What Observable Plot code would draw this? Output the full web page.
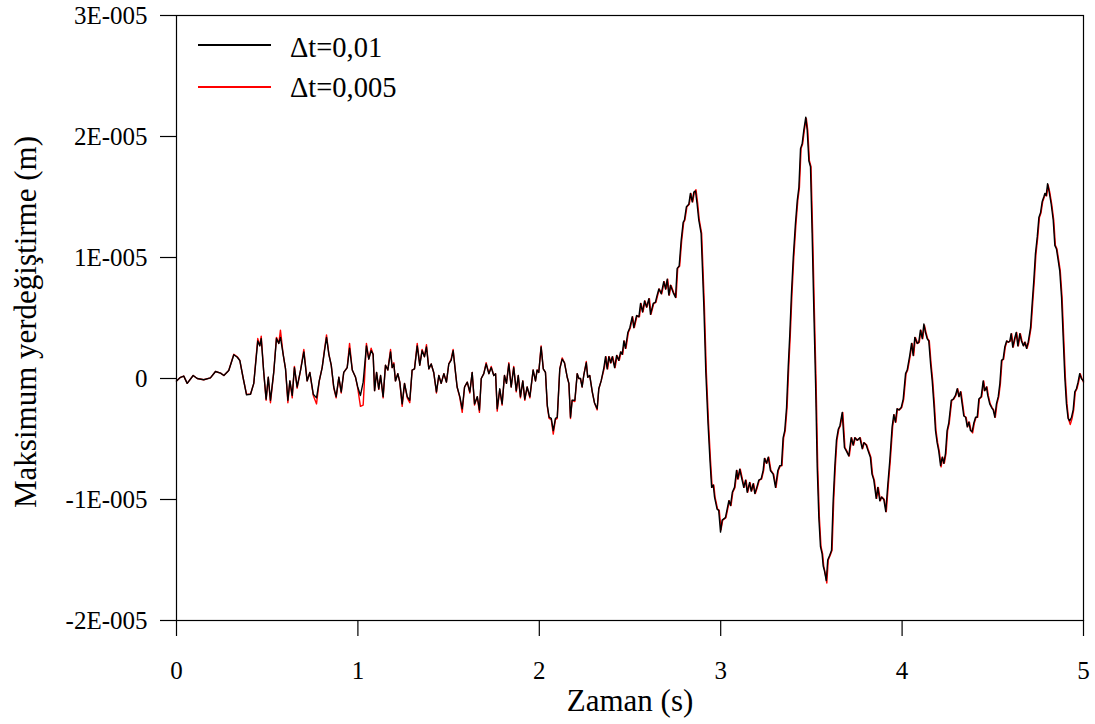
<!DOCTYPE html>
<html>
<head>
<meta charset="utf-8">
<script src="https://cdn.jsdelivr.net/npm/d3@7"></script>
<script src="https://cdn.jsdelivr.net/npm/@observablehq/plot@0.6"></script>
<style>
  html, body { margin: 0; padding: 0; background: #fff; }
  #wrap { position: relative; width: 1095px; height: 724px; font-family: "Liberation Serif", "Times New Roman", serif; }
  .lg-line { position: absolute; left: 198px; width: 73px; height: 2px; }
  .lg-text { position: absolute; left: 290px; font-size: 28.5px; line-height: 28px; color: #000; white-space: nowrap; font-family: "Liberation Serif", "Times New Roman", serif; }
</style>
</head>
<body>
<div id="wrap">
  <div class="lg-line" style="top:44px;background:#000"></div>
  <div class="lg-text" style="top:34px">Δt=0,01</div>
  <div class="lg-line" style="top:86px;background:#ff0000"></div>
  <div class="lg-text" style="top:74px">Δt=0,005</div>
</div>
<script>
// values in units of 1E-005 m, time in s
const xTicks = [0, 1, 2, 3, 4, 5];
const yTicks = [-2, -1, 0, 1, 2, 3];
const xTitle = "Zaman (s)";
const yTitle = "Maksimum yerdeğiştirme (m)";
const seriesNames = ["Δt=0,01", "Δt=0,005"];

const dt001 = [[0,-0.02],[0.022,0.01],[0.04,0.02],[0.059,-0.04],[0.092,0.025],[0.114,0],[0.15,-0.01],[0.187,0.005],[0.215,0.058],[0.243,0.044],[0.261,0.025],[0.288,0.066],[0.316,0.196],[0.335,0.176],[0.349,0.149],[0.368,0],[0.386,-0.135],[0.408,-0.13],[0.426,-0.04],[0.448,0.31],[0.459,0.27],[0.467,0.33],[0.481,0.05],[0.494,-0.17],[0.506,0.01],[0.518,-0.18],[0.536,0.05],[0.551,0.33],[0.564,0.29],[0.573,0.34],[0.588,0.2],[0.601,0.08],[0.614,-0.18],[0.625,-0.02],[0.638,-0.14],[0.65,0.09],[0.665,-0.07],[0.684,0.07],[0.702,0.22],[0.72,-0.02],[0.735,0.05],[0.754,-0.13],[0.772,-0.16],[0.787,-0.02],[0.803,0.09],[0.816,0.23],[0.827,0.34],[0.84,0.2],[0.853,0.11],[0.867,-0.07],[0.88,-0.15],[0.895,0.01],[0.908,-0.11],[0.922,0.05],[0.941,0.09],[0.954,0.25],[0.969,0.07],[0.987,0.01],[0.999,-0.07],[1.014,-0.14],[1.029,-0.03],[1.047,0.27],[1.06,0.16],[1.073,0.23],[1.084,0.2],[1.092,-0.1],[1.103,0.05],[1.115,-0.085],[1.125,0.025],[1.139,-0.15],[1.152,0.11],[1.165,0.07],[1.18,0.22],[1.189,0.09],[1.198,0.12],[1.207,-0.02],[1.22,0.04],[1.231,-0.03],[1.244,-0.21],[1.257,-0.04],[1.272,-0.15],[1.286,-0.18],[1.299,0.07],[1.312,0.08],[1.327,0.27],[1.341,0.11],[1.354,0.23],[1.367,0.18],[1.378,0.26],[1.391,0.08],[1.404,0.12],[1.418,0.05],[1.433,-0.11],[1.446,0.025],[1.459,-0.04],[1.474,0.04],[1.488,-0.03],[1.501,0.12],[1.514,0.15],[1.525,0.23],[1.538,0.05],[1.547,-0.07],[1.562,-0.15],[1.575,-0.25],[1.588,-0.07],[1.603,-0.03],[1.617,-0.11],[1.63,0.05],[1.643,-0.21],[1.658,-0.15],[1.67,-0.26],[1.68,0],[1.694,0.04],[1.707,0.12],[1.722,0.04],[1.735,0.09],[1.749,0.025],[1.759,0.04],[1.768,-0.25],[1.782,-0.085],[1.795,-0.21],[1.808,0.025],[1.819,-0.04],[1.832,0.12],[1.845,-0.07],[1.859,0.09],[1.873,-0.1],[1.884,0.025],[1.896,-0.15],[1.909,-0.02],[1.92,-0.17],[1.933,-0.07],[1.948,-0.15],[1.966,0.07],[1.979,-0.02],[1.988,0.07],[1.997,0.05],[2.01,0.26],[2.022,0.08],[2.034,0.05],[2.044,-0.22],[2.054,-0.32],[2.066,-0.33],[2.077,-0.43],[2.089,-0.33],[2.099,-0.32],[2.113,0.08],[2.126,0.16],[2.139,0.13],[2.154,0.01],[2.163,-0.04],[2.172,-0.32],[2.181,-0.18],[2.196,-0.18],[2.209,0.04],[2.218,0],[2.227,0],[2.236,-0.07],[2.245,0.025],[2.259,0.13],[2.267,0.01],[2.278,0.025],[2.292,-0.11],[2.304,-0.2],[2.319,-0.25],[2.328,-0.085],[2.341,-0.02],[2.356,0.09],[2.365,0.18],[2.374,0.08],[2.383,0.18],[2.393,0.13],[2.402,0.18],[2.415,0.09],[2.426,0.19],[2.438,0.15],[2.448,0.22],[2.457,0.2],[2.466,0.31],[2.475,0.25],[2.488,0.38],[2.499,0.42],[2.512,0.51],[2.521,0.42],[2.536,0.52],[2.549,0.51],[2.558,0.62],[2.569,0.55],[2.58,0.64],[2.591,0.59],[2.604,0.66],[2.613,0.53],[2.628,0.62],[2.64,0.63],[2.65,0.69],[2.659,0.74],[2.672,0.7],[2.686,0.8],[2.696,0.74],[2.705,0.82],[2.714,0.69],[2.723,0.77],[2.738,0.71],[2.751,0.67],[2.76,0.91],[2.771,0.93],[2.782,1.14],[2.793,1.29],[2.8,1.31],[2.811,1.42],[2.824,1.44],[2.833,1.53],[2.843,1.46],[2.852,1.54],[2.861,1.55],[2.87,1.44],[2.879,1.31],[2.892,1.2],[2.907,0.6],[2.918,0.05],[2.93,-0.37],[2.941,-0.68],[2.95,-0.9],[2.959,-0.88],[2.966,-0.98],[2.98,-1.08],[2.989,-1.09],[2.999,-1.27],[3.008,-1.17],[3.026,-1.15],[3.045,-1.01],[3.054,-1.05],[3.064,-0.94],[3.076,-0.9],[3.087,-0.76],[3.094,-0.83],[3.105,-0.75],[3.118,-0.84],[3.127,-0.9],[3.137,-0.84],[3.146,-0.94],[3.159,-0.86],[3.168,-0.93],[3.179,-0.87],[3.188,-0.95],[3.197,-0.91],[3.21,-0.84],[3.223,-0.83],[3.234,-0.76],[3.241,-0.66],[3.252,-0.7],[3.262,-0.65],[3.274,-0.76],[3.289,-0.79],[3.302,-0.9],[3.315,-0.76],[3.326,-0.72],[3.335,-0.72],[3.344,-0.49],[3.353,-0.43],[3.363,-0.24],[3.372,0.09],[3.381,0.37],[3.39,0.7],[3.4,1],[3.412,1.28],[3.422,1.47],[3.431,1.58],[3.44,1.9],[3.449,1.94],[3.458,2.05],[3.469,2.16],[3.477,2.05],[3.486,1.8],[3.495,1.75],[3.504,1.2],[3.513,0.59],[3.523,-0.04],[3.532,-0.73],[3.541,-1.15],[3.55,-1.39],[3.559,-1.45],[3.565,-1.55],[3.572,-1.59],[3.582,-1.67],[3.59,-1.5],[3.601,-1.46],[3.611,-1.42],[3.62,-1.01],[3.629,-0.73],[3.638,-0.51],[3.648,-0.42],[3.657,-0.39],[3.67,-0.28],[3.682,-0.57],[3.693,-0.6],[3.706,-0.64],[3.719,-0.49],[3.73,-0.55],[3.739,-0.49],[3.752,-0.51],[3.767,-0.49],[3.78,-0.58],[3.789,-0.53],[3.802,-0.55],[3.813,-0.6],[3.825,-0.65],[3.834,-0.79],[3.844,-0.84],[3.857,-0.99],[3.866,-0.9],[3.877,-1.01],[3.886,-0.98],[3.899,-1],[3.91,-1.1],[3.921,-0.88],[3.932,-0.68],[3.945,-0.4],[3.954,-0.3],[3.963,-0.36],[3.972,-0.25],[3.982,-0.26],[3.995,-0.24],[4.006,-0.17],[4.019,0.04],[4.028,0.07],[4.042,0.19],[4.052,0.29],[4.061,0.19],[4.07,0.34],[4.083,0.29],[4.092,0.3],[4.101,0.4],[4.111,0.33],[4.12,0.45],[4.129,0.38],[4.138,0.33],[4.147,0.31],[4.157,0.12],[4.166,-0.02],[4.175,-0.21],[4.184,-0.43],[4.193,-0.53],[4.202,-0.6],[4.212,-0.72],[4.221,-0.65],[4.23,-0.7],[4.239,-0.62],[4.248,-0.43],[4.257,-0.37],[4.271,-0.18],[4.282,-0.17],[4.294,-0.14],[4.304,-0.085],[4.313,-0.15],[4.322,-0.11],[4.331,-0.21],[4.34,-0.31],[4.35,-0.32],[4.359,-0.4],[4.368,-0.36],[4.377,-0.43],[4.386,-0.44],[4.395,-0.37],[4.405,-0.32],[4.414,-0.32],[4.423,-0.17],[4.436,-0.15],[4.447,-0.02],[4.454,-0.1],[4.465,-0.07],[4.472,-0.14],[4.483,-0.21],[4.493,-0.24],[4.502,-0.26],[4.511,-0.32],[4.52,-0.21],[4.53,-0.15],[4.539,-0.04],[4.548,0.15],[4.557,0.16],[4.566,0.26],[4.576,0.31],[4.585,0.3],[4.594,0.31],[4.601,0.37],[4.61,0.26],[4.62,0.33],[4.629,0.38],[4.638,0.27],[4.649,0.37],[4.658,0.31],[4.668,0.27],[4.676,0.3],[4.686,0.25],[4.695,0.3],[4.708,0.42],[4.717,0.62],[4.726,0.81],[4.735,1.03],[4.745,1.17],[4.754,1.33],[4.763,1.37],[4.772,1.46],[4.781,1.5],[4.787,1.53],[4.794,1.51],[4.802,1.61],[4.811,1.54],[4.822,1.44],[4.833,1.31],[4.842,1.1],[4.851,1.07],[4.86,0.98],[4.869,0.89],[4.879,0.67],[4.888,0.34],[4.897,0.01],[4.906,-0.21],[4.915,-0.33],[4.924,-0.35],[4.934,-0.32],[4.943,-0.26],[4.952,-0.11],[4.961,-0.085],[4.97,-0.03],[4.979,0.04],[4.988,0],[5,-0.02]];

const dt0005 = [[0,-0.02],[0.022,0.01],[0.04,0.02],[0.059,-0.04],[0.092,0.025],[0.114,0],[0.15,-0.01],[0.187,0.005],[0.215,0.058],[0.243,0.044],[0.261,0.025],[0.288,0.066],[0.316,0.2],[0.335,0.18],[0.349,0.15],[0.368,0],[0.386,-0.13],[0.408,-0.13],[0.426,-0.04],[0.448,0.33],[0.459,0.27],[0.467,0.35],[0.481,0.05],[0.494,-0.18],[0.506,0.01],[0.518,-0.2],[0.536,0.05],[0.551,0.34],[0.564,0.29],[0.573,0.4],[0.588,0.2],[0.601,0.08],[0.614,-0.2],[0.625,-0.02],[0.638,-0.16],[0.65,0.1],[0.665,-0.08],[0.684,0.07],[0.702,0.24],[0.72,-0.02],[0.735,0.05],[0.754,-0.14],[0.772,-0.21],[0.787,-0.02],[0.803,0.09],[0.816,0.24],[0.827,0.36],[0.84,0.2],[0.853,0.11],[0.867,-0.08],[0.88,-0.16],[0.895,0.01],[0.908,-0.12],[0.922,0.05],[0.941,0.09],[0.954,0.29],[0.969,0.07],[0.987,0.01],[0.999,-0.08],[1.014,-0.23],[1.029,-0.22],[1.047,0.29],[1.06,0.16],[1.073,0.25],[1.084,0.2],[1.092,-0.1],[1.103,0.05],[1.115,-0.09],[1.125,0.025],[1.139,-0.16],[1.152,0.11],[1.165,0.07],[1.18,0.24],[1.189,0.09],[1.198,0.13],[1.207,-0.02],[1.22,0.04],[1.231,-0.03],[1.244,-0.23],[1.257,-0.04],[1.272,-0.16],[1.286,-0.2],[1.299,0.07],[1.312,0.08],[1.327,0.29],[1.341,0.11],[1.354,0.24],[1.367,0.18],[1.378,0.28],[1.391,0.08],[1.404,0.12],[1.418,0.05],[1.433,-0.12],[1.446,0.025],[1.459,-0.04],[1.474,0.04],[1.488,-0.03],[1.501,0.12],[1.514,0.16],[1.525,0.24],[1.538,0.05],[1.547,-0.07],[1.562,-0.16],[1.575,-0.28],[1.588,-0.07],[1.603,-0.03],[1.617,-0.12],[1.63,0.05],[1.643,-0.22],[1.658,-0.15],[1.67,-0.28],[1.68,0],[1.694,0.04],[1.707,0.13],[1.722,0.04],[1.735,0.1],[1.749,0.025],[1.759,0.04],[1.768,-0.27],[1.782,-0.09],[1.795,-0.22],[1.808,0.025],[1.819,-0.04],[1.832,0.13],[1.845,-0.07],[1.859,0.1],[1.873,-0.11],[1.884,0.025],[1.896,-0.16],[1.909,-0.02],[1.92,-0.18],[1.933,-0.07],[1.948,-0.16],[1.966,0.07],[1.979,-0.02],[1.988,0.07],[1.997,0.05],[2.01,0.27],[2.022,0.08],[2.034,0.05],[2.044,-0.23],[2.054,-0.33],[2.066,-0.34],[2.077,-0.46],[2.089,-0.34],[2.099,-0.33],[2.113,0.08],[2.126,0.17],[2.139,0.13],[2.154,0.01],[2.163,-0.04],[2.172,-0.33],[2.181,-0.18],[2.196,-0.19],[2.209,0.04],[2.218,0],[2.227,0],[2.236,-0.07],[2.245,0.025],[2.259,0.14],[2.267,0.01],[2.278,0.025],[2.292,-0.11],[2.304,-0.2],[2.319,-0.26],[2.328,-0.085],[2.341,-0.02],[2.359,0.09],[2.368,0.18],[2.377,0.08],[2.386,0.18],[2.396,0.13],[2.405,0.18],[2.418,0.09],[2.429,0.19],[2.441,0.15],[2.451,0.22],[2.46,0.2],[2.469,0.31],[2.478,0.25],[2.491,0.38],[2.502,0.42],[2.515,0.51],[2.524,0.42],[2.539,0.52],[2.552,0.51],[2.561,0.62],[2.572,0.55],[2.583,0.64],[2.594,0.59],[2.607,0.66],[2.616,0.53],[2.631,0.62],[2.643,0.63],[2.653,0.69],[2.662,0.74],[2.675,0.7],[2.689,0.8],[2.699,0.74],[2.708,0.82],[2.717,0.69],[2.726,0.77],[2.741,0.71],[2.754,0.67],[2.763,0.91],[2.774,0.93],[2.785,1.14],[2.796,1.29],[2.803,1.31],[2.814,1.42],[2.827,1.44],[2.836,1.53],[2.846,1.46],[2.855,1.54],[2.864,1.56],[2.873,1.45],[2.882,1.31],[2.895,1.2],[2.91,0.6],[2.921,0.05],[2.933,-0.37],[2.944,-0.68],[2.953,-0.9],[2.962,-0.88],[2.969,-0.98],[2.983,-1.08],[2.992,-1.09],[3.002,-1.25],[3.011,-1.17],[3.029,-1.15],[3.048,-1.01],[3.057,-1.05],[3.067,-0.94],[3.079,-0.9],[3.09,-0.76],[3.097,-0.83],[3.108,-0.75],[3.121,-0.84],[3.13,-0.9],[3.14,-0.84],[3.149,-0.94],[3.162,-0.86],[3.171,-0.93],[3.182,-0.87],[3.191,-0.95],[3.2,-0.91],[3.213,-0.84],[3.226,-0.83],[3.237,-0.76],[3.244,-0.66],[3.255,-0.7],[3.265,-0.65],[3.277,-0.76],[3.292,-0.79],[3.305,-0.9],[3.318,-0.76],[3.329,-0.72],[3.338,-0.72],[3.347,-0.49],[3.356,-0.43],[3.366,-0.24],[3.375,0.09],[3.384,0.37],[3.393,0.7],[3.403,1],[3.415,1.28],[3.425,1.47],[3.434,1.58],[3.443,1.9],[3.452,1.94],[3.461,2.05],[3.472,2.15],[3.48,2.05],[3.489,1.8],[3.498,1.75],[3.507,1.2],[3.516,0.59],[3.526,-0.04],[3.535,-0.73],[3.544,-1.15],[3.553,-1.39],[3.562,-1.45],[3.568,-1.55],[3.575,-1.6],[3.585,-1.69],[3.593,-1.5],[3.604,-1.46],[3.614,-1.42],[3.623,-1.01],[3.632,-0.73],[3.641,-0.51],[3.651,-0.42],[3.66,-0.39],[3.673,-0.28],[3.685,-0.57],[3.696,-0.6],[3.709,-0.64],[3.722,-0.49],[3.733,-0.55],[3.742,-0.49],[3.755,-0.51],[3.77,-0.49],[3.783,-0.58],[3.792,-0.53],[3.805,-0.55],[3.816,-0.6],[3.828,-0.65],[3.837,-0.79],[3.847,-0.84],[3.86,-0.99],[3.869,-0.9],[3.88,-1.01],[3.889,-0.98],[3.902,-1],[3.913,-1.1],[3.924,-0.88],[3.935,-0.68],[3.948,-0.4],[3.957,-0.3],[3.966,-0.36],[3.975,-0.25],[3.985,-0.26],[3.998,-0.24],[4.009,-0.17],[4.022,0.04],[4.031,0.07],[4.045,0.19],[4.055,0.29],[4.064,0.19],[4.073,0.34],[4.086,0.29],[4.095,0.3],[4.104,0.4],[4.114,0.33],[4.123,0.44],[4.132,0.38],[4.141,0.33],[4.15,0.31],[4.16,0.12],[4.169,-0.02],[4.178,-0.21],[4.187,-0.43],[4.196,-0.53],[4.205,-0.6],[4.215,-0.73],[4.224,-0.65],[4.233,-0.7],[4.242,-0.62],[4.251,-0.43],[4.26,-0.37],[4.274,-0.18],[4.285,-0.17],[4.297,-0.14],[4.307,-0.085],[4.316,-0.15],[4.325,-0.11],[4.334,-0.21],[4.343,-0.31],[4.353,-0.32],[4.362,-0.4],[4.371,-0.36],[4.38,-0.43],[4.389,-0.45],[4.398,-0.37],[4.408,-0.32],[4.417,-0.32],[4.426,-0.17],[4.439,-0.15],[4.45,-0.02],[4.457,-0.1],[4.468,-0.07],[4.475,-0.14],[4.486,-0.21],[4.496,-0.24],[4.505,-0.26],[4.514,-0.32],[4.523,-0.21],[4.533,-0.15],[4.542,-0.04],[4.551,0.15],[4.56,0.16],[4.569,0.26],[4.579,0.31],[4.588,0.3],[4.597,0.31],[4.604,0.37],[4.613,0.26],[4.623,0.33],[4.632,0.38],[4.641,0.27],[4.652,0.37],[4.661,0.31],[4.671,0.27],[4.679,0.3],[4.689,0.25],[4.698,0.3],[4.711,0.42],[4.72,0.62],[4.729,0.81],[4.738,1.03],[4.748,1.17],[4.757,1.33],[4.766,1.37],[4.775,1.46],[4.784,1.5],[4.79,1.53],[4.797,1.51],[4.805,1.6],[4.814,1.54],[4.825,1.44],[4.836,1.31],[4.845,1.1],[4.854,1.07],[4.863,0.98],[4.872,0.89],[4.882,0.67],[4.891,0.34],[4.9,0.01],[4.909,-0.21],[4.918,-0.34],[4.927,-0.38],[4.937,-0.33],[4.946,-0.26],[4.955,-0.11],[4.964,-0.085],[4.973,-0.03],[4.982,0.04],[4.991,0],[5,-0.03]];

const yFmt = d => d === 0 ? "0" : `${d}E-005`;
const serif = "'Liberation Serif', 'Times New Roman', serif";

const chart = Plot.plot({
  width: 1095,
  height: 724,
  marginLeft: 176,
  marginRight: 12,
  marginTop: 15,
  marginBottom: 104,
  x: {domain: [0, 5]},
  y: {domain: [-2, 3]},
  style: {fontFamily: serif, fontSize: "25px", color: "#000", background: "#fff", overflow: "visible"},
  marks: [
    Plot.line(dt0005, {x: d => d[0], y: d => d[1], stroke: "#ff0000", strokeWidth: 1.4, curve: "linear"}),
    Plot.line(dt001, {x: d => d[0], y: d => d[1], stroke: "#000", strokeWidth: 1.4, curve: "linear"}),
    Plot.frame({stroke: "#000", strokeWidth: 1.2}),
    Plot.axisX({ticks: xTicks, tickSize: 16, tickPadding: 25, label: null, tickFormat: d => String(d), fontSize: 25, fontFamily: serif, stroke: "#000", strokeWidth: 1.2}),
    Plot.axisY({ticks: yTicks, tickSize: 16, tickPadding: 13, label: null, tickFormat: yFmt, fontSize: 25, fontFamily: serif, stroke: "#000", strokeWidth: 1.2}),
    Plot.text([xTitle], {text: d => d, frameAnchor: "bottom", textAnchor: "middle", lineAnchor: "middle", dy: 81, fontSize: 31, fontFamily: serif}),
    Plot.text([yTitle], {text: d => d, frameAnchor: "left", textAnchor: "middle", lineAnchor: "middle", rotate: -90, dx: -150, dy: 4, fontSize: 31, fontFamily: serif})
  ]
});
document.getElementById("wrap").prepend(chart);
</script>
</body>
</html>
